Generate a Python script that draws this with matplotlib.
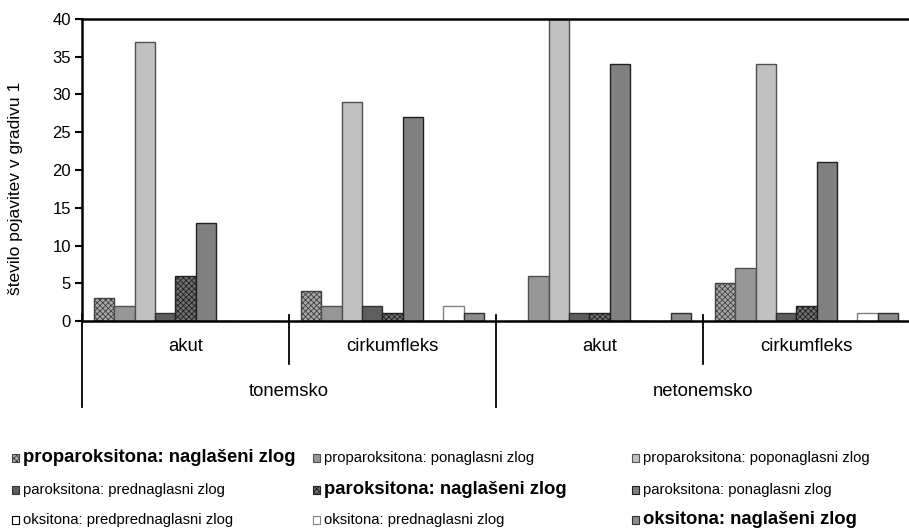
import matplotlib
matplotlib.use("Agg")
import matplotlib.pyplot as plt
from matplotlib.patches import Rectangle
import numpy as np

plt.rcParams['font.family'] = ['Liberation Sans', 'DejaVu Sans']
plt.rcParams['hatch.linewidth'] = 0.6

groups = ["akut", "cirkumfleks", "akut", "cirkumfleks"]
supergroups = ["tonemsko", "netonemsko"]
series = [
    "proparoksitona: naglašeni zlog",
    "proparoksitona: ponaglasni zlog",
    "proparoksitona: poponaglasni zlog",
    "paroksitona: prednaglasni zlog",
    "paroksitona: naglašeni zlog",
    "paroksitona: ponaglasni zlog",
    "oksitona: predprednaglasni zlog",
    "oksitona: prednaglasni zlog",
    "oksitona: naglašeni zlog",
]
s1 = [3, 4, 0, 5]
s2 = [2, 2, 6, 7]
s3 = [37, 29, 40, 34]
s4 = [1, 2, 1, 1]
s5 = [6, 1, 1, 2]
s6 = [13, 27, 34, 21]
s7 = [0, 0, 0, 0]
s8 = [0, 2, 0, 1]
s9 = [0, 1, 1, 1]
values = [s1, s2, s3, s4, s5, s6, s7, s8, s9]
bold = [True, False, False, False, True, False, False, False, True]

styles = [
    dict(facecolor='#a8a8a8', hatch='xxxxxx', edgecolor='#404040'),
    dict(facecolor='#969696', edgecolor='#505050'),
    dict(facecolor='#c0c0c0', edgecolor='#505050'),
    dict(facecolor='#5e5e5e', edgecolor='#303030'),
    dict(facecolor='#707070', hatch='xxxxxx', edgecolor='#202020'),
    dict(facecolor='#808080', edgecolor='#202020'),
    dict(facecolor='#ffffff', edgecolor='#000000'),
    dict(facecolor='#ffffff', edgecolor='#808080'),
    dict(facecolor='#8c8c8c', edgecolor='#303030'),
]

W, H = 909, 528
fig = plt.figure(figsize=(W / 100, H / 100), dpi=100)
ax = fig.add_axes([82 / W, (H - 321) / H, (910 - 82) / W, 302 / H])

bw = 0.098
x = np.arange(len(groups))
for i, (vals, st) in enumerate(zip(values, styles)):
    ax.bar(x + 0.5 + (i - 4) * bw, vals, width=bw, linewidth=1.0, **st)

ax.set_xlim(0, 4)
ax.set_ylim(0, 40)
ax.set_yticks(np.arange(0, 41, 5))
ax.tick_params(axis='y', direction='out', length=5, width=1.5, labelsize=12, pad=3)
ax.set_xticks([])
ax.set_ylabel("število pojavitev v gradivu 1", fontsize=12.5)
ax.yaxis.set_label_coords(-0.071, 0.44)

for sp in ['left', 'top', 'bottom']:
    ax.spines[sp].set_linewidth(1.8)
ax.spines['right'].set_visible(False)

trans = ax.get_xaxis_transform()
for gx in [1, 3]:
    ax.plot([gx, gx], [0.02, -0.142], color='black', lw=1.3, transform=trans, clip_on=False)
for gx in [0, 2]:
    ax.plot([gx, gx], [0.02, -0.285], color='black', lw=1.3, transform=trans, clip_on=False)

for i, g in enumerate(groups):
    ax.text(i + 0.5, -0.086, g, transform=trans, ha='center', va='center', fontsize=13.3)
for j, sg in enumerate(supergroups):
    ax.text(2 * j + 1, -0.232, sg, transform=trans, ha='center', va='center', fontsize=13.3)

col_x = [12, 313, 632]
row_y = [458, 490, 520]
for k, (name, st) in enumerate(zip(series, styles)):
    r, c = divmod(k, 3)
    px, py = col_x[c], row_y[r]
    rect = Rectangle((px / W, (H - py - 4) / H), 7 / W, 8 / H, transform=fig.transFigure,
                     linewidth=0.8, **st)
    fig.add_artist(rect)
    fig.text((px + 11) / W, (H - py) / H, name, ha='left', va='center',
             fontsize=13.3 if bold[k] else 10.7, fontweight='bold' if bold[k] else 'normal')

fig.savefig("out.png", dpi=100)
